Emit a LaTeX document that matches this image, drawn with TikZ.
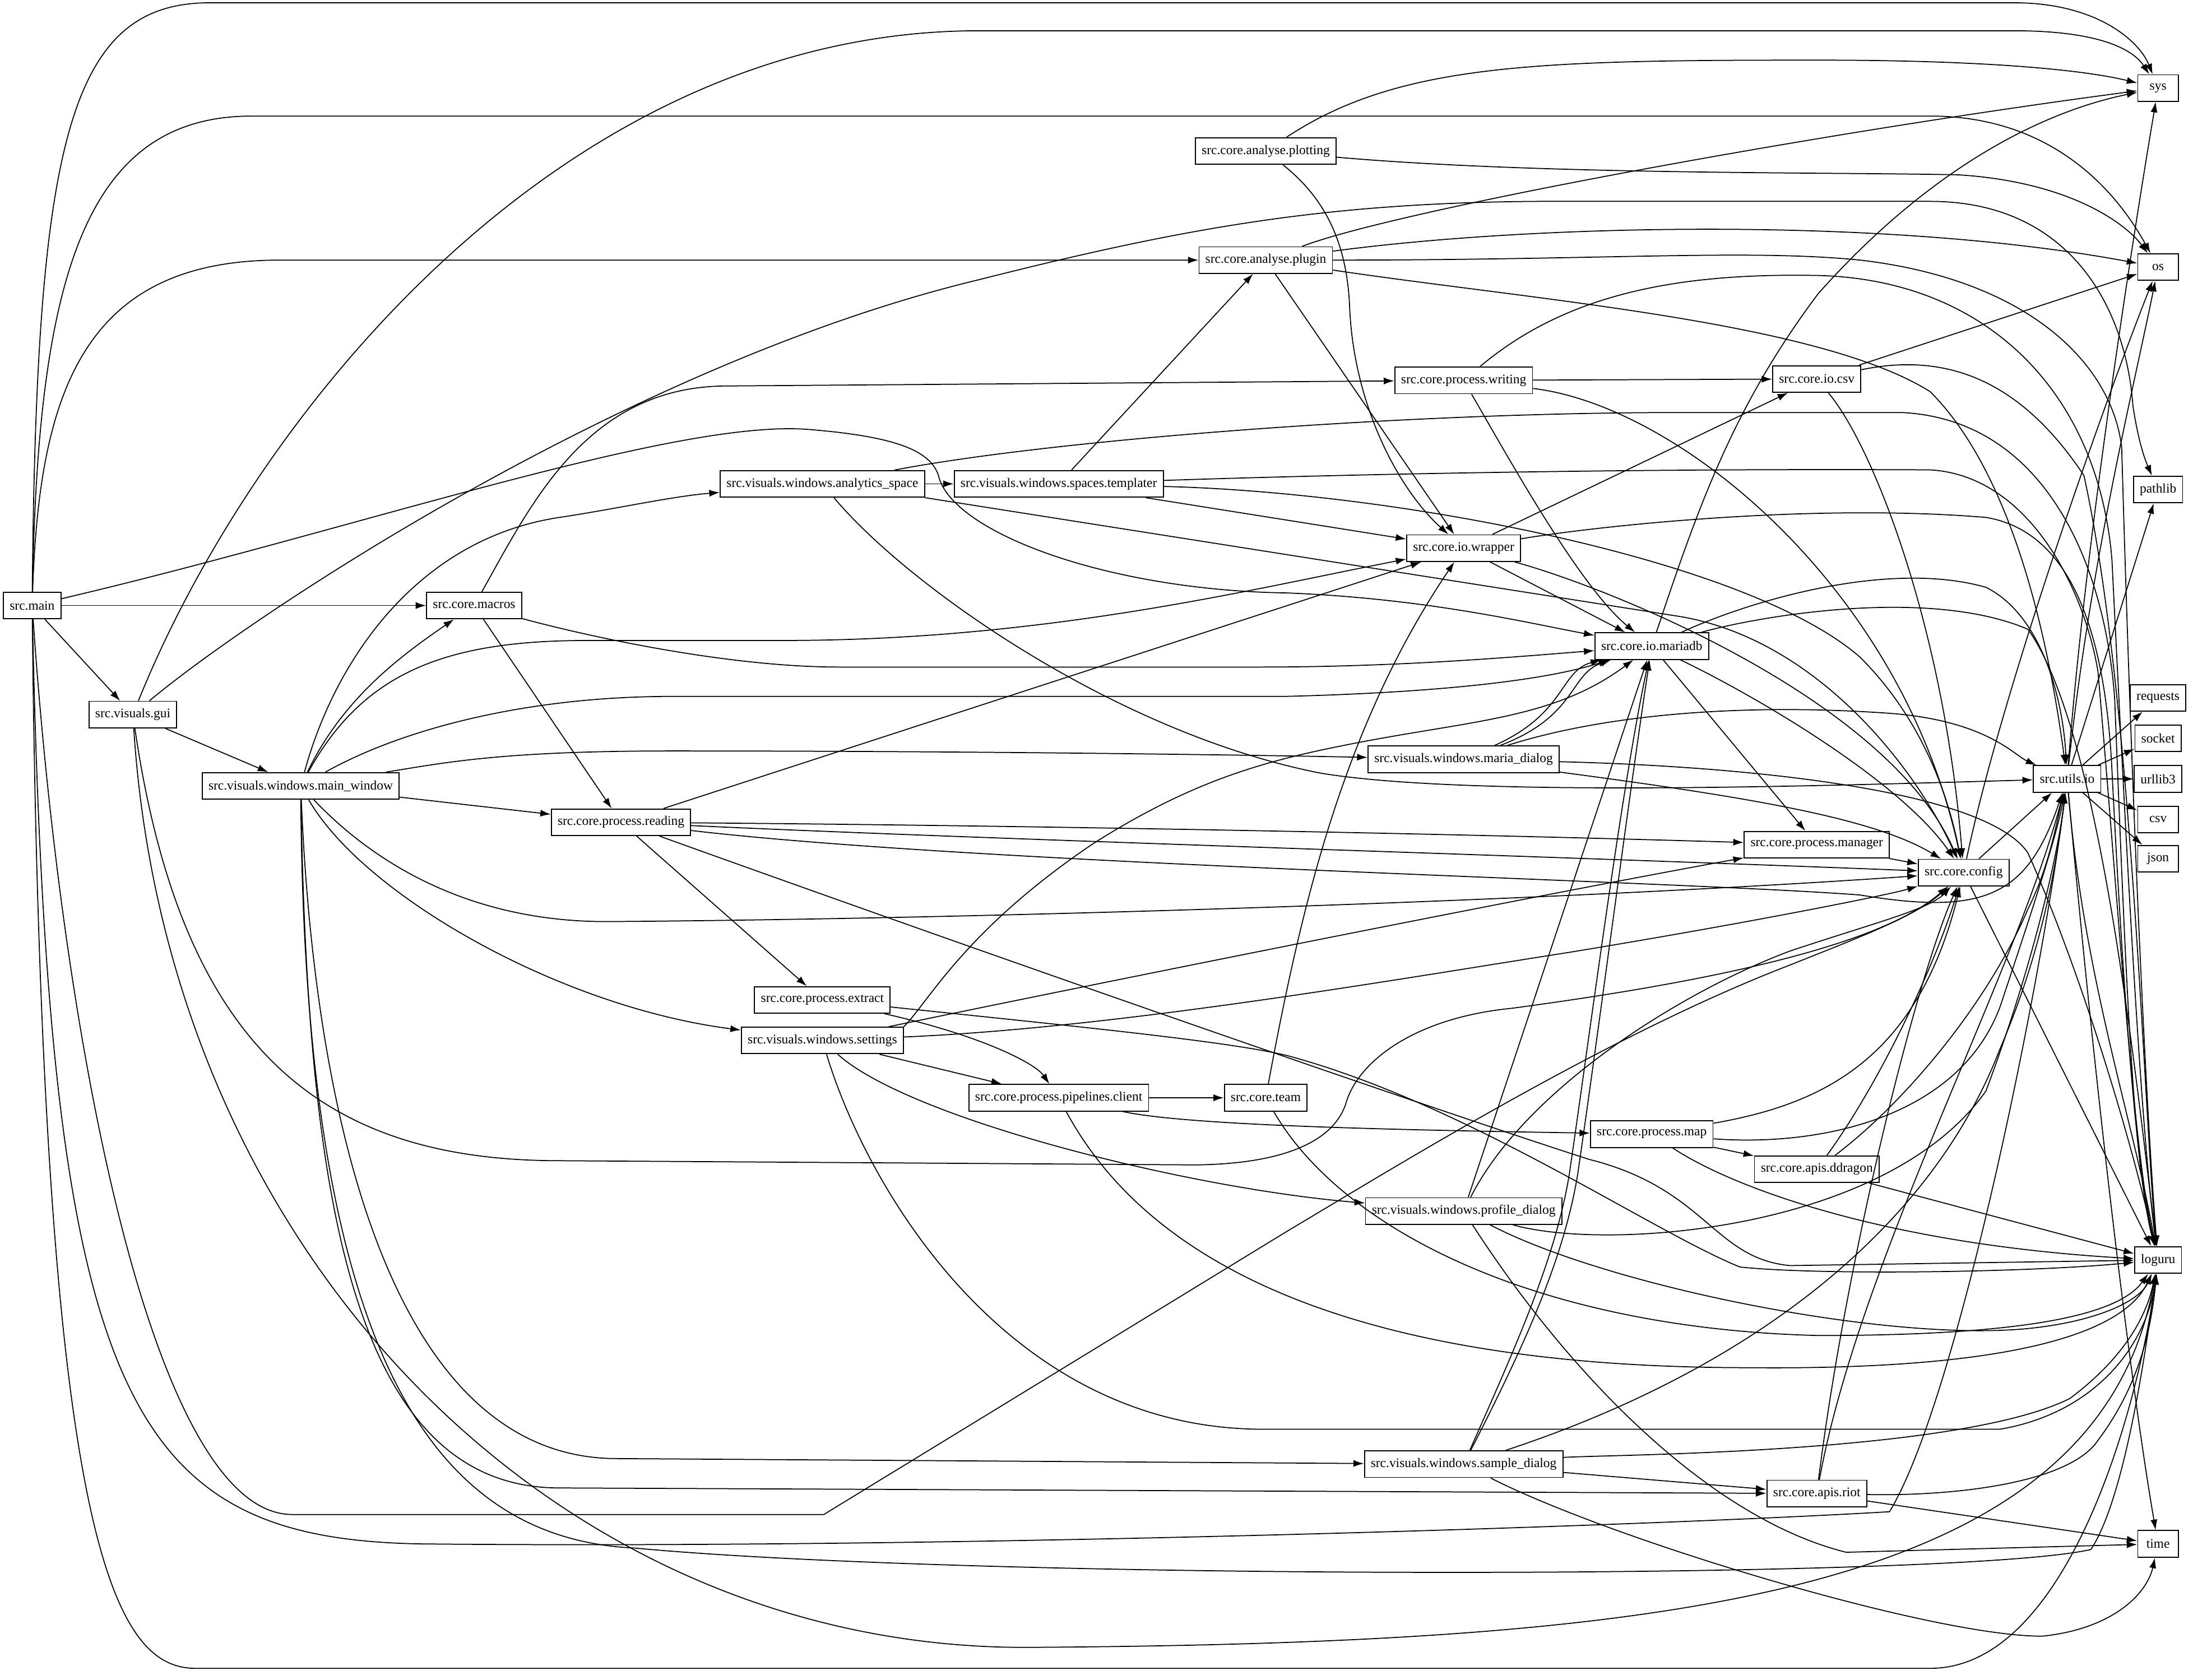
\documentclass[tikz,border=0pt]{standalone}
\usepackage{fontspec}
\setmainfont{Liberation Serif}
\usetikzlibrary{arrows.meta}
\begin{document}
\begin{tikzpicture}[x=1pt,y=-1pt,
  mod/.style={draw,line width=0.75pt,fill=white,font=\fontsize{9.4}{11}\selectfont,
    inner xsep=4.5pt,inner ysep=0pt,minimum height=19pt,minimum width=29pt},
  dep/.style={draw,line width=0.7pt,-{Latex[length=7.5pt,width=5pt]}}]
\useasboundingbox (0,0) rectangle (1568,1201);

\node[mod] (main) at (23,433) {src.main};
\node[mod] (gui) at (95,511) {src.visuals.gui};
\node[mod] (mainwin) at (215,562) {src.visuals.windows.main\_window};
\node[mod] (macros) at (339,433) {src.core.macros};
\node[mod] (reading) at (444,588) {src.core.process.reading};
\node[mod] (analytics) at (588,346) {src.visuals.windows.analytics\_space};
\node[mod] (extract) at (588,715) {src.core.process.extract};
\node[mod] (settings) at (588,744) {src.visuals.windows.settings};
\node[mod] (templater) at (757,346) {src.visuals.windows.spaces.templater};
\node[mod] (pipelines) at (757,785) {src.core.process.pipelines.client};
\node[mod] (plotting) at (905,108) {src.core.analyse.plotting};
\node[mod] (plugin) at (905,186) {src.core.analyse.plugin};
\node[mod] (team) at (905,785) {src.core.team};
\node[mod] (writing) at (1046.5,272) {src.core.process.writing};
\node[mod] (wrapper) at (1046.5,392) {src.core.io.wrapper};
\node[mod] (mariadlg) at (1046.5,543) {src.visuals.windows.maria\_dialog};
\node[mod] (profile) at (1046.5,866) {src.visuals.windows.profile\_dialog};
\node[mod] (sample) at (1046.5,1047) {src.visuals.windows.sample\_dialog};
\node[mod] (mariadb) at (1181,462) {src.core.io.mariadb};
\node[mod] (map) at (1181,811) {src.core.process.map};
\node[mod] (csvio) at (1299,271) {src.core.io.csv};
\node[mod] (manager) at (1299,604) {src.core.process.manager};
\node[mod] (ddragon) at (1299,836) {src.core.apis.ddragon};
\node[mod] (riot) at (1299,1068) {src.core.apis.riot};
\node[mod] (config) at (1404,624) {src.core.config};
\node[mod] (utilsio) at (1478,557) {src.utils.io};
\node[mod] (sys) at (1543,63) {sys};
\node[mod] (os) at (1543,191) {os};
\node[mod] (pathlib) at (1543,350) {pathlib};
\node[mod] (requests) at (1543,499) {requests};
\node[mod] (socket) at (1543,528) {socket};
\node[mod] (urllib) at (1543,557) {urllib3};
\node[mod] (csv) at (1543,586) {csv};
\node[mod] (json) at (1543,614) {json};
\node[mod] (loguru) at (1543,901) {loguru};
\node[mod] (time) at (1543,1104) {time};

\draw[dep] (main) .. controls (26,100) and (50,2) .. (150,2) -- (1440,2) .. controls (1500,2) and (1530,30) .. (sys);
\draw[dep] (main) .. controls (27,200) and (60,83) .. (180,83) -- (1380,83) .. controls (1470,83) and (1515,140) .. (os);
\draw[dep] (main) .. controls (28,280) and (60,186) .. (200,186) -- (plugin);
\draw[dep] (main) .. controls (250,380) and (480,300) .. (577,307) .. controls (640,312) and (665,322) .. (671,340) .. controls (680,380) and (790,422) .. (920,424) .. controls (1020,428) and (1090,445) .. (mariadb);
\draw[dep] (main) -- (macros);
\draw[dep] (main) -- (gui);
\draw[dep] (main) .. controls (45,750) and (110,1083) .. (209,1083) -- (589,1083) -- (921,880) .. controls (1000,833) and (1150,740) .. (1280,690) .. controls (1330,670) and (1370,655) .. (config);
\draw[dep] (main) .. controls (35,1000) and (90,1100) .. (300,1104) .. controls (700,1108) and (1200,1090) .. (1351,1081) .. controls (1400,1000) and (1460,700) .. (utilsio);
\draw[dep] (main) .. controls (30,1100) and (80,1193) .. (140,1193) -- (1380,1193) .. controls (1480,1193) and (1530,1000) .. (loguru);

\draw[dep] (gui) .. controls (180,300) and (400,22) .. (700,22) -- (1440,22) .. controls (1500,22) and (1525,35) .. (sys);
\draw[dep] (gui) .. controls (180,440) and (450,260) .. (700,200) .. controls (850,162) and (950,145) .. (1100,144) -- (1380,144) .. controls (1480,144) and (1520,220) .. (1525,290) .. controls (1528,310) and (1532,325) .. (pathlib);
\draw[dep] (gui) -- (mainwin);
\draw[dep] (gui) .. controls (130,750) and (230,830) .. (400,830) -- (855,833) .. controls (930,832) and (955,810) .. (962,790) .. controls (970,760) and (1010,728) .. (1081,721) .. controls (1200,705) and (1340,680) .. (config);
\draw[dep] (gui) .. controls (120,900) and (400,1180) .. (736,1178) .. controls (1200,1175) and (1500,1140) .. (loguru);

\draw[dep] (mainwin) .. controls (245,500) and (285,470) .. (macros);
\draw[dep] (mainwin) .. controls (240,470) and (300,385) .. (400,370) .. controls (440,364) and (480,355) .. (analytics);
\draw[dep] (mainwin) .. controls (260,480) and (320,458) .. (420,458) -- (560,458) .. controls (750,458) and (900,420) .. (wrapper);
\draw[dep] (mainwin) .. controls (290,520) and (380,498) .. (480,498) -- (918,498) .. controls (1040,495) and (1110,485) .. (mariadb);
\draw[dep] (mainwin) .. controls (320,545) and (360,537) .. (480,537) .. controls (700,537) and (900,540) .. (mariadlg);
\draw[dep] (mainwin) -- (reading);
\draw[dep] (mainwin) .. controls (260,640) and (400,720) .. (settings);
\draw[dep] (mainwin) .. controls (270,620) and (340,660) .. (437,659) .. controls (700,657) and (1100,645) .. (config);
\draw[dep] (mainwin) .. controls (225,800) and (280,1043) .. (441,1043) -- (sample);
\draw[dep] (mainwin) .. controls (220,850) and (250,1064) .. (400,1064) -- (riot);
\draw[dep] (mainwin) .. controls (218,950) and (300,1100) .. (454,1107) .. controls (700,1130) and (1400,1130) .. (1495,1108) .. controls (1520,1070) and (1535,960) .. (loguru);

\draw[dep] (macros) .. controls (380,360) and (420,276) .. (520,276) -- (writing);
\draw[dep] (macros) .. controls (420,455) and (520,477) .. (600,477) -- (900,477) .. controls (1000,477) and (1080,470) .. (mariadb);
\draw[dep] (macros) -- (reading);

\draw[dep] (reading) -- (extract);
\draw[dep] (reading) -- (wrapper);
\draw[dep] (reading) .. controls (700,590) and (1000,595) .. (manager);
\draw[dep] (reading) .. controls (700,600) and (1100,612) .. (config);
\draw[dep] (reading) .. controls (700,618) and (1200,630) .. (1330,640) .. controls (1420,655) and (1450,640) .. (utilsio);
\draw[dep] (reading) .. controls (700,680) and (1000,785) .. (1136,829) .. controls (1220,850) and (1225,900) .. (1280,905) -- (loguru);

\draw[dep] (analytics) -- (templater);
\draw[dep] (analytics.south east) -- (1202,441) .. controls (1300,458) and (1370,550) .. (config);
\draw[dep] (analytics) .. controls (650,420) and (800,525) .. (945,553) .. controls (1050,570) and (1300,562) .. (utilsio);
\draw[dep] (analytics) .. controls (750,315) and (1000,295) .. (1200,295) -- (1360,295) .. controls (1460,300) and (1505,400) .. (1512,500) .. controls (1520,700) and (1525,830) .. (loguru);

\draw[dep] (templater) -- (plugin);
\draw[dep] (templater) -- (wrapper);
\draw[dep] (templater) .. controls (1000,352) and (1250,400) .. (1330,470) .. controls (1380,520) and (1395,580) .. (config);
\draw[dep] (templater) .. controls (1000,338) and (1200,335) .. (1380,336) .. controls (1450,340) and (1490,420) .. (1500,480) .. controls (1515,650) and (1525,820) .. (loguru);

\draw[dep] (plotting) .. controls (1000,45) and (1100,43) .. (1300,43) .. controls (1420,43) and (1490,50) .. (sys);
\draw[dep] (plotting) .. controls (1100,125) and (1300,123) .. (1400,125) .. controls (1480,130) and (1520,160) .. (os);
\draw[dep] (plotting) .. controls (945,140) and (963,170) .. (965,220) .. controls (968,290) and (1000,350) .. (wrapper);

\draw[dep] (plugin) .. controls (1000,150) and (1300,95) .. (sys);
\draw[dep] (plugin) .. controls (1100,160) and (1350,155) .. (os);
\draw[dep] (plugin) .. controls (1150,186) and (1250,178) .. (1330,186) .. controls (1450,200) and (1510,260) .. (1517,320) .. controls (1525,600) and (1535,800) .. (loguru);
\draw[dep] (plugin) .. controls (1100,215) and (1300,230) .. (1380,280) .. controls (1440,340) and (1465,460) .. (utilsio);
\draw[dep] (plugin) -- (wrapper);

\draw[dep] (writing) -- (csvio);
\draw[dep] (writing) .. controls (1080,330) and (1130,420) .. (mariadb);
\draw[dep] (writing) .. controls (1200,290) and (1360,420) .. (config);
\draw[dep] (writing) .. controls (1120,210) and (1200,195) .. (1300,197) .. controls (1420,200) and (1500,280) .. (1510,400) .. controls (1520,600) and (1530,800) .. (loguru);

\draw[dep] (csvio) -- (os);
\draw[dep] (csvio) .. controls (1340,320) and (1390,450) .. (config);
\draw[dep] (csvio) .. controls (1400,250) and (1450,280) .. (1490,340) .. controls (1525,500) and (1533,800) .. (loguru);

\draw[dep] (wrapper) -- (csvio);
\draw[dep] (wrapper) -- (mariadb);
\draw[dep] (wrapper) .. controls (1150,375) and (1300,360) .. (1420,370) .. controls (1480,380) and (1505,450) .. (1510,550) .. controls (1520,750) and (1530,850) .. (loguru);
\draw[dep] (wrapper) .. controls (1150,420) and (1350,500) .. (config);

\draw[dep] (mariadb) .. controls (1215,360) and (1240,290) .. (1300,210) .. controls (1380,120) and (1460,80) .. (sys);
\draw[dep] (mariadb) -- (manager);
\draw[dep] (mariadb) .. controls (1260,500) and (1360,560) .. (config);
\draw[dep] (mariadb) .. controls (1250,430) and (1350,400) .. (1420,420) .. controls (1460,440) and (1475,500) .. (utilsio);
\draw[dep] (mariadb) .. controls (1260,440) and (1380,420) .. (1450,450) .. controls (1500,520) and (1525,750) .. (loguru);

\draw[dep] (mariadlg) .. controls (1120,510) and (1115,480) .. (mariadb);
\draw[dep] (mariadlg) .. controls (1128,512) and (1122,482) .. (mariadb);
\draw[dep] (mariadlg) .. controls (1150,510) and (1250,503) .. (1350,510) .. controls (1420,515) and (1440,540) .. (utilsio);
\draw[dep] (mariadlg) .. controls (1250,570) and (1340,585) .. (config);
\draw[dep] (mariadlg) .. controls (1250,548) and (1420,565) .. (1450,610) .. controls (1490,700) and (1525,820) .. (loguru);

\draw[dep] (extract) .. controls (700,740) and (740,760) .. (pipelines);
\draw[dep] (extract) .. controls (780,735) and (880,745) .. (921,755) .. controls (1050,790) and (1180,880) .. (1244,906) .. controls (1300,912) and (1450,910) .. (loguru);

\draw[dep] (settings.north east) .. controls (665,715) and (690,665) .. (782,603) .. controls (850,560) and (900,545) .. (961,533) .. controls (1050,515) and (1110,515) .. (mariadb);
\draw[dep] (settings) .. controls (800,700) and (1100,640) .. (manager);
\draw[dep] (settings) .. controls (800,735) and (1000,700) .. (1122,681) .. controls (1250,660) and (1350,640) .. (config);
\draw[dep] (settings) -- (pipelines);
\draw[dep] (settings) .. controls (650,800) and (850,850) .. (profile);
\draw[dep] (settings) .. controls (620,850) and (720,1020) .. (900,1022) -- (1430,1022) .. controls (1500,1010) and (1535,960) .. (loguru);

\draw[dep] (pipelines) -- (team);
\draw[dep] (pipelines) .. controls (850,805) and (1000,808) .. (map);
\draw[dep] (pipelines) .. controls (830,920) and (1000,978) .. (1250,978) .. controls (1450,980) and (1520,950) .. (loguru);

\draw[dep] (team) .. controls (930,650) and (960,520) .. (wrapper);
\draw[dep] (team) .. controls (960,880) and (1100,950) .. (1300,955) .. controls (1450,955) and (1515,940) .. (loguru);

\draw[dep] (map) -- (ddragon);
\draw[dep] (map) .. controls (1300,820) and (1400,800) .. (1430,720) .. controls (1450,660) and (1470,600) .. (utilsio);
\draw[dep] (map) .. controls (1300,790) and (1370,760) .. (config);
\draw[dep] (map) .. controls (1240,850) and (1350,890) .. (loguru);

\draw[dep] (ddragon) .. controls (1340,780) and (1380,700) .. (config);
\draw[dep] (ddragon) .. controls (1360,790) and (1420,720) .. (1450,650) .. controls (1465,620) and (1470,590) .. (utilsio);
\draw[dep] (ddragon) -- (loguru);

\draw[dep] (profile) -- (mariadb);
\draw[dep] (profile) .. controls (1090,780) and (1200,710) .. (1280,680) .. controls (1340,660) and (1380,650) .. (config);
\draw[dep] (profile) .. controls (1150,895) and (1350,880) .. (1420,780) .. controls (1450,700) and (1470,620) .. (utilsio);
\draw[dep] (profile) .. controls (1150,920) and (1350,960) .. (1450,950) .. controls (1500,945) and (1530,930) .. (loguru);
\draw[dep] (profile) .. controls (1120,980) and (1220,1085) .. (1320,1110) -- (time);

\draw[dep] (sample) .. controls (1085,960) and (1112,900) .. (1122,840) .. controls (1138,730) and (1160,560) .. (mariadb);
\draw[dep] (sample) .. controls (1091,960) and (1118,900) .. (1128,840) .. controls (1144,730) and (1166,560) .. (mariadb);
\draw[dep] (sample) .. controls (1250,980) and (1380,880) .. (1430,750) .. controls (1460,680) and (1470,620) .. (utilsio);
\draw[dep] (sample) .. controls (1150,1040) and (1400,1040) .. (1480,1000) .. controls (1520,970) and (1535,940) .. (loguru);
\draw[dep] (sample) -- (riot);
\draw[dep] (sample) .. controls (1150,1100) and (1380,1170) .. (1460,1170) .. controls (1510,1165) and (1535,1140) .. (time);

\draw[dep] (riot) .. controls (1330,900) and (1440,700) .. (utilsio);
\draw[dep] (riot) .. controls (1320,900) and (1370,700) .. (config);
\draw[dep] (riot) .. controls (1400,1070) and (1480,1060) .. (1500,1030) .. controls (1530,990) and (1538,950) .. (loguru);
\draw[dep] (riot) -- (time);

\draw[dep] (manager) -- (config);

\draw[dep] (config) .. controls (1430,500) and (1500,300) .. (os);
\draw[dep] (config) -- (utilsio);
\draw[dep] (config) -- (loguru);

\draw[dep] (utilsio) .. controls (1490,400) and (1520,200) .. (sys);
\draw[dep] (utilsio) .. controls (1495,400) and (1525,280) .. (os);
\draw[dep] (utilsio) -- (pathlib);
\draw[dep] (utilsio) -- (requests);
\draw[dep] (utilsio) -- (socket);
\draw[dep] (utilsio) -- (urllib);
\draw[dep] (utilsio) -- (csv);
\draw[dep] (utilsio) -- (json);
\draw[dep] (utilsio) .. controls (1490,700) and (1525,800) .. (loguru);
\draw[dep] (utilsio) .. controls (1500,800) and (1525,1000) .. (time);
\end{tikzpicture}
\end{document}
